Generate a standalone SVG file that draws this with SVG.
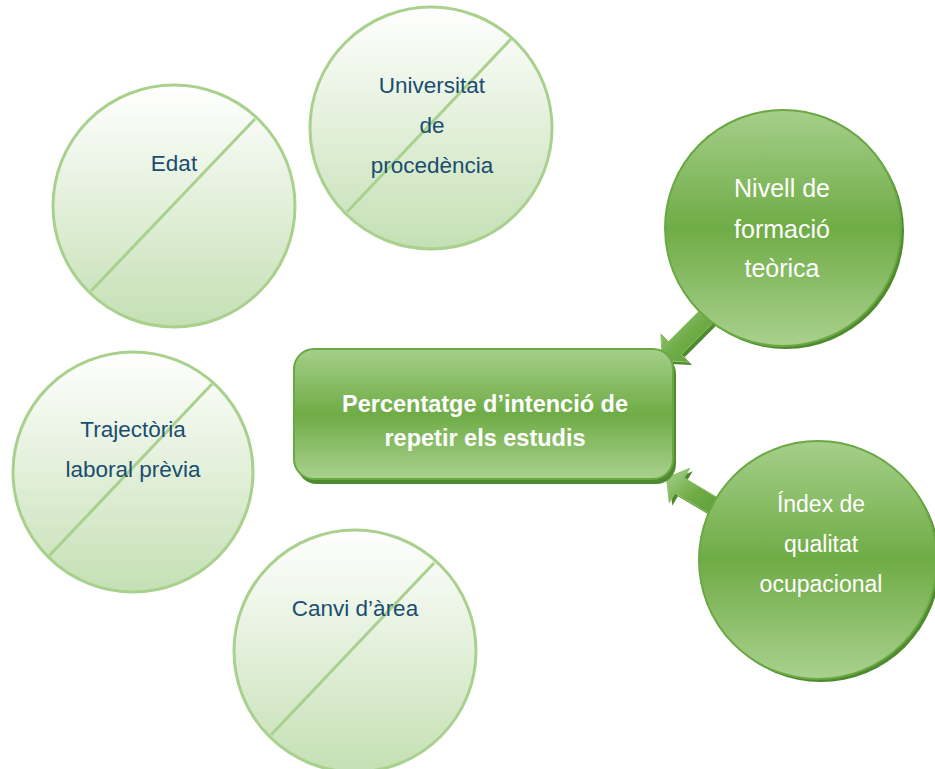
<svg xmlns="http://www.w3.org/2000/svg" width="935" height="769" viewBox="0 0 935 769">
<defs>
<linearGradient id="gLight" x1="0" y1="0" x2="0" y2="1">
<stop offset="0" stop-color="#ffffff"/>
<stop offset="1" stop-color="#c5e0b4"/>
</linearGradient>
<linearGradient id="gGreen" x1="0" y1="0" x2="0" y2="1">
<stop offset="0" stop-color="#a5cf8a"/>
<stop offset="0.5" stop-color="#6fac46"/>
<stop offset="1" stop-color="#a9d18e"/>
</linearGradient>
<linearGradient id="gArrow" x1="0" y1="0" x2="1" y2="1">
<stop offset="0" stop-color="#a9d18e"/>
<stop offset="0.5" stop-color="#70ad47"/>
<stop offset="1" stop-color="#5a9a35"/>
</linearGradient>
<style>
.light{fill:url(#gLight);stroke:#a9d18e;stroke-width:3}
.diag{stroke:#a9d18e;stroke-width:3}
.green{fill:url(#gGreen);stroke:#6aa843;stroke-width:2}
.shadow{fill:#4f8a2e}
.blue{font-family:"Liberation Sans",Arial,sans-serif;font-size:22.5px;fill:#1a4d70;text-anchor:middle}
.white{font-family:"Liberation Sans",Arial,sans-serif;font-size:23px;fill:#ffffff;text-anchor:middle}
.bold{font-family:"Liberation Sans",Arial,sans-serif;font-size:23.5px;font-weight:bold;fill:#ffffff;text-anchor:middle}
.arrow{fill:url(#gArrow);stroke:#8cc46a;stroke-width:1}
</style>
</defs>
<rect width="935" height="769" fill="#ffffff"/>

<g id="connectors">
<polygon class="shadow" points="723.3,318.5 684.4,357.4 692.1,365.1 665.3,363.7 663.9,336.9 671.6,344.6 710.5,305.7"/>
<polygon class="arrow" points="720.3,315.5 681.4,354.4 689.1,362.1 662.3,360.7 660.9,333.9 668.6,341.6 707.5,302.7"/>
<polygon class="shadow" points="725.8,503.8 687.1,480.8 692.7,471.3 669.6,480.9 672.3,505.7 677.9,496.2 716.6,519.2"/>
<polygon class="arrow" points="722.8,500.8 684.1,477.8 689.7,468.3 666.6,477.9 669.3,502.7 674.9,493.2 713.6,516.2"/>
</g>

<g id="node-edat">
<circle class="light" cx="174" cy="206" r="121"/>
<line class="diag" x1="255" y1="119" x2="91" y2="291"/>
<text class="blue" x="174" y="171">Edat</text>
</g>

<g id="node-universitat">
<circle class="light" cx="431" cy="128" r="121"/>
<line class="diag" x1="511" y1="39" x2="347" y2="212"/>
<text class="blue" x="432" y="93">Universitat</text>
<text class="blue" x="432" y="133">de</text>
<text class="blue" x="432" y="173">procedència</text>
</g>

<g id="node-trajectoria">
<circle class="light" cx="133" cy="472" r="120"/>
<line class="diag" x1="212" y1="384" x2="49" y2="556"/>
<text class="blue" x="133" y="437">Trajectòria</text>
<text class="blue" x="133" y="477">laboral prèvia</text>
</g>

<g id="node-canvi">
<circle class="light" cx="355" cy="651" r="121"/>
<line class="diag" x1="434" y1="563" x2="271" y2="735"/>
<text class="blue" x="355" y="616">Canvi d’àrea</text>
</g>

<g id="node-nivell">
<circle class="shadow" cx="786" cy="231" r="118"/>
<circle class="green" cx="783" cy="228" r="118"/>
<text class="white" x="782" y="197" style="font-size:25px">Nivell de</text>
<text class="white" x="782" y="238" style="font-size:25px">formació</text>
<text class="white" x="782" y="277" style="font-size:25px">teòrica</text>
</g>

<g id="node-index">
<circle class="shadow" cx="821" cy="563" r="119"/>
<circle class="green" cx="818" cy="560" r="119"/>
<text class="white" x="821" y="512">Índex de</text>
<text class="white" x="821" y="552">qualitat</text>
<text class="white" x="821" y="592">ocupacional</text>
</g>

<g id="node-center">
<rect class="shadow" x="297" y="354" width="379" height="130" rx="20"/>
<rect class="green" x="294" y="349" width="379" height="130" rx="20"/>
<text class="bold" x="485" y="412">Percentatge d’intenció de</text>
<text class="bold" x="485" y="446">repetir els estudis</text>
</g>
</svg>
